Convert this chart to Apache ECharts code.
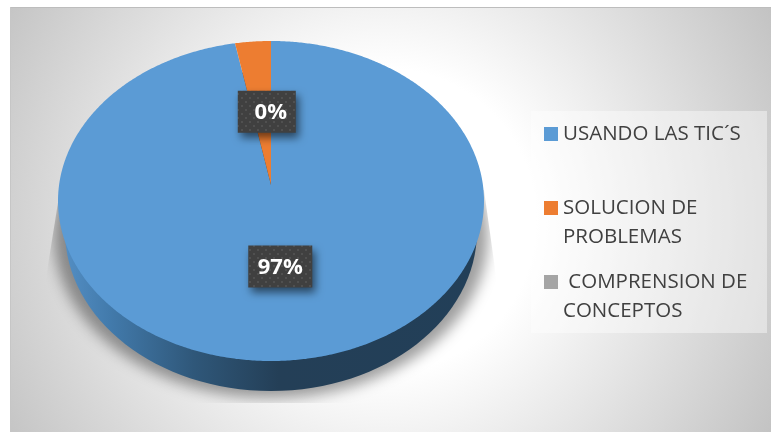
<!DOCTYPE html>
<html>
<head>
<meta charset="utf-8">
<title>Pie</title>
<script src="https://cdn.jsdelivr.net/npm/echarts@6/dist/echarts.min.js"></script>
<style>
html, body { margin: 0; background: #fff; }
#main { width: 771px; height: 432px; }
</style>
</head>
<body>
<div id="main"></div>
<script>
var categories = ['USANDO LAS TIC´S', 'SOLUCION DE\nPROBLEMAS', ' COMPRENSION DE\nCONCEPTOS'];
var shares = [97, 3, 0];
var sliceLabels = ['97%', '0%', ''];
var colors = ['#5b9bd5', '#ed7d31', '#a5a5a5'];

// ellipse of the top face, apex sits above its centre because of the tilt
var cx = 271, cy = 201, rx = 213, ry = 160, apexY = 185;
var labelReach = [0.466, 0.51, 0];
var labelBoxWidth = [64, 58, 0];
var labelBoxShift = [-1, 5, 0];
var labelTextShift = [-1, 9, 0];
var labelFont = 'bold 22px "Open Sans"';
var total = shares[0] + shares[1] + shares[2];

function rimPoint(deg, reach) {
  var a = deg * Math.PI / 180;
  var p = (apexY - cy) / ry;
  var uy = -Math.cos(a);
  var t = -p * uy + Math.sqrt(p * p * uy * uy - p * p + 1);
  return [cx + rx * Math.sin(a) * t * reach, apexY + ry * uy * t * reach];
}

function dotTile() {
  var c = document.createElement('canvas');
  c.width = 8; c.height = 8;
  var g = c.getContext('2d');
  g.fillStyle = '#404040';
  g.fillRect(0, 0, 8, 8);
  g.fillStyle = '#505050';
  g.fillRect(1, 1, 2, 2);
  g.fillRect(5, 5, 2, 2);
  return c;
}

function shadowImage() {
  var c = document.createElement('canvas');
  c.width = 771; c.height = 432;
  var g = c.getContext('2d');
  g.beginPath();
  g.moveTo(60, 190); g.lineTo(44, 290); g.lineTo(44, 403);
  g.lineTo(500, 403); g.lineTo(498, 290); g.lineTo(484, 190);
  g.closePath();
  g.clip();
  g.filter = 'blur(7px)';
  g.fillStyle = 'rgba(0,0,0,0.38)';
  g.beginPath();
  g.ellipse(cx, 236, 217, 162, 0, 0, Math.PI * 2);
  g.fill();
  return c;
}

var tile = dotTile();

function sliceRenderer(index) {
  var start = 0;
  for (var i = 0; i < index; i++) start += shares[i] / total * 360;
  var sweep = shares[index] / total * 360;
  return function (params, api) {
    if (sweep <= 0) return null;
    var pts = [[cx, apexY]];
    for (var d = 0; d < sweep; d += 0.5) pts.push(rimPoint(start + d, 1));
    pts.push(rimPoint(start + sweep, 1));

    var mid = rimPoint(start + sweep / 2, labelReach[index]);
    var w = labelBoxWidth[index];
    var h = 42;
    return {
      type: 'group',
      children: [
        { type: 'polygon', shape: { points: pts }, style: { fill: api.visual('color') } },
        {
          type: 'rect',
          shape: { x: mid[0] + labelBoxShift[index] - w / 2, y: mid[1] - h / 2, width: w, height: h },
          style: {
            fill: { image: tile, repeat: 'repeat' },
            shadowBlur: 8, shadowOffsetX: 3, shadowOffsetY: 5, shadowColor: 'rgba(0,0,0,0.55)'
          }
        },
        {
          type: 'text',
          style: {
            x: mid[0] + labelTextShift[index], y: mid[1] + 1, text: sliceLabels[index], font: labelFont,
            fill: '#fff', align: 'center', verticalAlign: 'middle'
          }
        }
      ]
    };
  };
}

function wallRenderer() {
  return {
    type: 'ellipse',
    shape: { cx: cx, cy: 231, rx: 206, ry: 160 },
    style: {
      fill: {
        type: 'linear', x: 60, y: 0, x2: 480, y2: 0, global: true,
        colorStops: [
          { offset: 0, color: '#5590c6' },
          { offset: 0.12, color: '#427aab' },
          { offset: 0.32, color: '#2f5779' },
          { offset: 0.52, color: '#243f57' },
          { offset: 1, color: '#223f58' }
        ]
      }
    }
  };
}

var series = [{
  type: 'custom', name: 'lateral', coordinateSystem: 'none',
  data: [[total]], renderItem: wallRenderer, silent: true
}];
categories.forEach(function (name, i) {
  series.push({
    type: 'custom', name: name, coordinateSystem: 'none',
    data: [[shares[i]]], itemStyle: { color: colors[i] },
    renderItem: sliceRenderer(i), silent: true
  });
});

var option = {
  animation: false,
  graphic: [
    {
      type: 'rect', z: 0,
      shape: { x: 10, y: 7, width: 761, height: 425 },
      style: {
        fill: {
          type: 'radial', x: 385, y: 220, r: 445, global: true,
          colorStops: [
            { offset: 0, color: '#ffffff' },
            { offset: 0.34, color: '#ffffff' },
            { offset: 1, color: '#c2c2c2' }
          ]
        }
      }
    },
    { type: 'rect', z: 0, shape: { x: 10, y: 7, width: 761, height: 1 }, style: { fill: '#bdbdbd' } },
    { type: 'rect', z: 0, shape: { x: 10, y: 7, width: 1, height: 425 }, style: { fill: '#c6c6c6' } },
    { type: 'image', z: 1, style: { image: shadowImage(), x: 0, y: 0, width: 771, height: 432 } },
    {
      type: 'rect', z: 3,
      shape: { x: 531, y: 111, width: 236, height: 222 },
      style: { fill: 'rgba(255,255,255,0.42)' }
    }
  ],
  legend: {
    orient: 'vertical', left: 544, top: 90.5, padding: 0,
    itemWidth: 14, itemHeight: 14, itemGap: -13,
    icon: 'rect', selectedMode: false,
    data: categories,
    formatter: function (name) {
      return '\n' + name + (name.indexOf('\n') < 0 ? '\n ' : '');
    },
    textStyle: { fontFamily: 'Open Sans', fontSize: 20.5, lineHeight: 29, color: '#404040' }
  },
  series: series
};

var chart = echarts.init(document.getElementById('main'));
chart.setOption(option);
</script>
</body>
</html>
